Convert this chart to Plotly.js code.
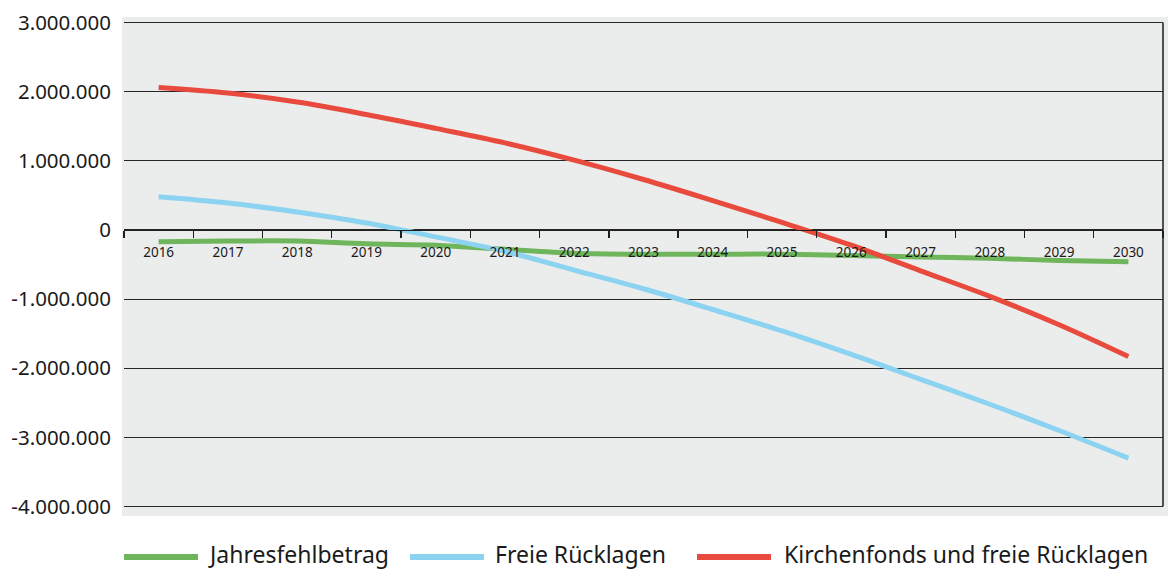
<!DOCTYPE html>
<html>
<head>
<meta charset="utf-8">
<script src="https://cdn.plot.ly/plotly-3.0.1.min.js"></script>
<style>
  html, body { margin: 0; padding: 0; background: #ffffff; }
  #chart { width: 1171px; height: 571px; }
</style>
</head>
<body>
<div id="chart"></div>
<script>
// ---- Data ----
const years = ['2016','2017','2018','2019','2020','2021','2022','2023','2024','2025','2026','2027','2028','2029','2030'];
const seriesNames = ['Jahresfehlbetrag', 'Freie Rücklagen', 'Kirchenfonds und freie Rücklagen'];
const jahresfehlbetrag = [-170000, -160000, -160000, -200000, -220000, -280000, -335000, -350000, -350000, -350000, -370000, -390000, -410000, -440000, -460000];
const freieRuecklagen = [480000, 390000, 260000, 100000, -100000, -310000, -580000, -850000, -1150000, -1460000, -1800000, -2160000, -2520000, -2900000, -3300000];
const kirchenfonds = [2060000, 1980000, 1850000, 1670000, 1470000, 1260000, 1010000, 730000, 425000, 110000, -220000, -590000, -960000, -1370000, -1830000];
const yTickValues = [3000000, 2000000, 1000000, 0, -1000000, -2000000, -3000000, -4000000];
const yTickLabels = ['3.000.000', '2.000.000', '1.000.000', '0', '-1.000.000', '-2.000.000', '-3.000.000', '-4.000.000'];

// ---- Styles ----
const colors = ['#6FB55B', '#8CD3F2', '#E84B3D'];
const seriesData = [jahresfehlbetrag, freieRuecklagen, kirchenfonds];
const yMin = -4136000, yMax = 3080000;
const W = 1171, H = 571;
const margin = {l: 124, r: 8, t: 17, b: 55};
const plotW = W - margin.l - margin.r, plotH = H - margin.t - margin.b;
const px = X => (X - margin.l) / plotW;      // pixel -> paper x
const py = Y => (H - margin.b - Y) / plotH;  // pixel -> paper y

const traces = seriesData.map((vals, i) => ({
  type: 'scatter',
  mode: 'lines',
  x: years,
  y: vals,
  name: seriesNames[i],
  line: {color: colors[i], width: 5, shape: 'spline', smoothing: 1},
  hoverinfo: 'x+y+name',
  showlegend: false
}));

// custom legend matching reference geometry
const legendLines = [[124, 198], [410, 484], [697, 771]];
const legendText = [207, 494, 783];
const legendY = 554;

const shapes = [
  // grey chart background extending slightly beyond the plot area
  {type: 'rect', xref: 'paper', yref: 'paper', x0: px(122), x1: px(1168), y0: py(516), y1: py(17),
   fillcolor: '#EBECEC', line: {width: 0}, layer: 'below'},
  // right border line
  {type: 'line', xref: 'paper', yref: 'y', x0: 1, x1: 1, y0: -4000000, y1: 3000000,
   line: {color: '#1e1e1e', width: 1.5}, layer: 'above'}
];
const annotations = [];
legendLines.forEach((ln, i) => {
  shapes.push({type: 'line', xref: 'paper', yref: 'paper', x0: px(ln[0]), x1: px(ln[1]), y0: py(legendY + 3), y1: py(legendY + 3),
    line: {color: colors[i], width: 6}});
  annotations.push({xref: 'paper', yref: 'paper', x: px(legendText[i]), y: py(legendY), xanchor: 'left', yanchor: 'middle',
    text: seriesNames[i], showarrow: false, borderpad: 0,
    font: {family: 'Noto Sans, sans-serif', size: 23, color: '#1a1a1a'}});
});

const layout = {
  width: W, height: H,
  margin: margin,
  paper_bgcolor: '#ffffff',
  plot_bgcolor: '#EBECEC',
  showlegend: false,
  xaxis: {
    type: 'category',
    anchor: 'free',
    position: -yMin / (yMax - yMin),
    range: [-0.5, years.length - 0.5],
    showline: true, linecolor: '#1e1e1e', linewidth: 1.3,
    ticks: 'outside', ticklen: 7, tickwidth: 1.3, tickcolor: '#1e1e1e',
    tickson: 'boundaries',
    ticklabelstandoff: 10,
    showgrid: false, zeroline: false,
    tickfont: {family: 'Noto Sans, sans-serif', size: 13.5, color: '#1a1a1a'},
    fixedrange: true
  },
  yaxis: {
    range: [yMin, yMax],
    tickmode: 'array', tickvals: yTickValues, ticktext: yTickLabels,
    showgrid: true, gridcolor: '#262626', gridwidth: 1.2,
    zeroline: false, showline: false, ticks: '',
    ticklabelstandoff: 12,
    tickfont: {family: 'Noto Sans, sans-serif', size: 20.5, color: '#1a1a1a'},
    fixedrange: true
  },
  shapes: shapes,
  annotations: annotations
};

Plotly.newPlot('chart', traces, layout, {displayModeBar: false, staticPlot: true});
</script>
</body>
</html>
